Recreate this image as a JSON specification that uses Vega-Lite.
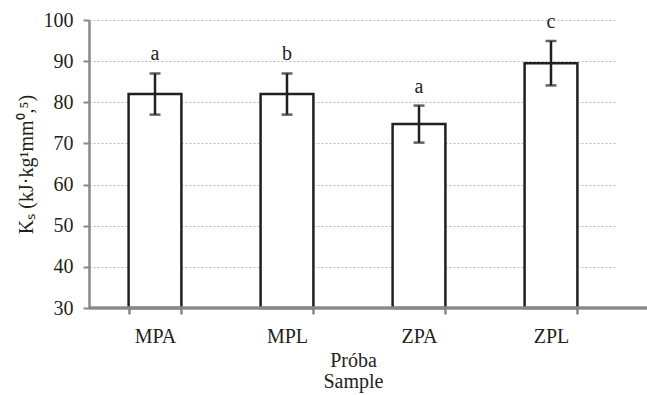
{
  "$schema": "https://vega.github.io/schema/vega-lite/v6.json",
  "width": 558,
  "height": 288,
  "autosize": {"type": "none"},
  "padding": {"left": 89, "top": 20, "right": 0, "bottom": 87},
  "background": "white",
  "config": {"font": "Liberation Serif", "view": {"stroke": null}},
  "data": {"values": [
    {"sample": "MPA", "mean": 82.0, "lower": 77.0, "upper": 87.0, "group": "a"},
    {"sample": "MPL", "mean": 82.0, "lower": 77.0, "upper": 87.0, "group": "b"},
    {"sample": "ZPA", "mean": 74.7, "lower": 70.2, "upper": 79.2, "group": "a"},
    {"sample": "ZPL", "mean": 89.5, "lower": 84.1, "upper": 94.9, "group": "c"}
  ]},
  "layer": [
    {
      "mark": {"type": "bar", "fill": "white", "stroke": "#231f20", "strokeWidth": 2.5},
      "encoding": {
        "x": {
          "field": "sample", "type": "nominal", "sort": null,
          "scale": {"range": [0, 528], "paddingInner": 0.6, "paddingOuter": 0.3},
          "axis": {
            "title": ["Próba", "Sample"],
            "titleFont": "Liberation Serif", "titleFontSize": 20, "titleFontWeight": "normal",
            "titleColor": "#231f20", "titleLineHeight": 21, "titlePadding": 4,
            "labelFont": "Liberation Serif",
            "labelAngle": 0, "labelFontSize": 20, "labelColor": "#231f20", "labelPadding": 12,
            "tickBand": "extent", "tickSize": 6, "tickWidth": 2.5, "tickColor": "#898989",
            "domain": false, "grid": false
          }
        },
        "y": {
          "field": "mean", "type": "quantitative",
          "scale": {"domain": [30, 100], "zero": false, "nice": false},
          "axis": {
            "values": [30, 40, 50, 60, 70, 80, 90, 100],
            "title": "Kₛ (kJ·kg¹mm⁰,⁵)",
            "titleFont": "Liberation Serif", "titleFontSize": 20, "titleFontWeight": "normal",
            "titleColor": "#231f20", "titlePadding": 7,
            "labelFont": "Liberation Serif",
            "labelFontSize": 20, "labelColor": "#231f20", "labelPadding": 10,
            "domainColor": "#898989", "domainWidth": 2.5,
            "tickColor": "#898989", "tickWidth": 2, "tickSize": 6,
            "grid": true, "gridColor": "#bbbbbb", "gridDash": [2, 2], "gridWidth": 1
          }
        },
        "y2": {"datum": 30}
      }
    },
    {
      "mark": {"type": "rule", "color": "#898989", "strokeWidth": 2.5},
      "encoding": {"y": {"datum": 30, "type": "quantitative"}}
    },
    {
      "mark": {"type": "rule", "color": "#231f20", "strokeWidth": 2.5},
      "encoding": {
        "x": {"field": "sample", "type": "nominal", "sort": null},
        "y": {"field": "lower", "type": "quantitative"}, "y2": {"field": "upper"}
      }
    },
    {
      "mark": {"type": "tick", "color": "#231f20", "thickness": 2.5, "size": 11, "orient": "horizontal"},
      "encoding": {
        "x": {"field": "sample", "type": "nominal", "sort": null},
        "y": {"field": "lower", "type": "quantitative"}
      }
    },
    {
      "mark": {"type": "tick", "color": "#231f20", "thickness": 2.5, "size": 11, "orient": "horizontal"},
      "encoding": {
        "x": {"field": "sample", "type": "nominal", "sort": null},
        "y": {"field": "upper", "type": "quantitative"}
      }
    },
    {
      "mark": {"type": "text", "font": "Liberation Serif", "fontSize": 20, "color": "#231f20", "baseline": "alphabetic", "dy": -13},
      "encoding": {
        "x": {"field": "sample", "type": "nominal", "sort": null},
        "y": {"field": "upper", "type": "quantitative"},
        "text": {"field": "group"}
      }
    }
  ]
}
